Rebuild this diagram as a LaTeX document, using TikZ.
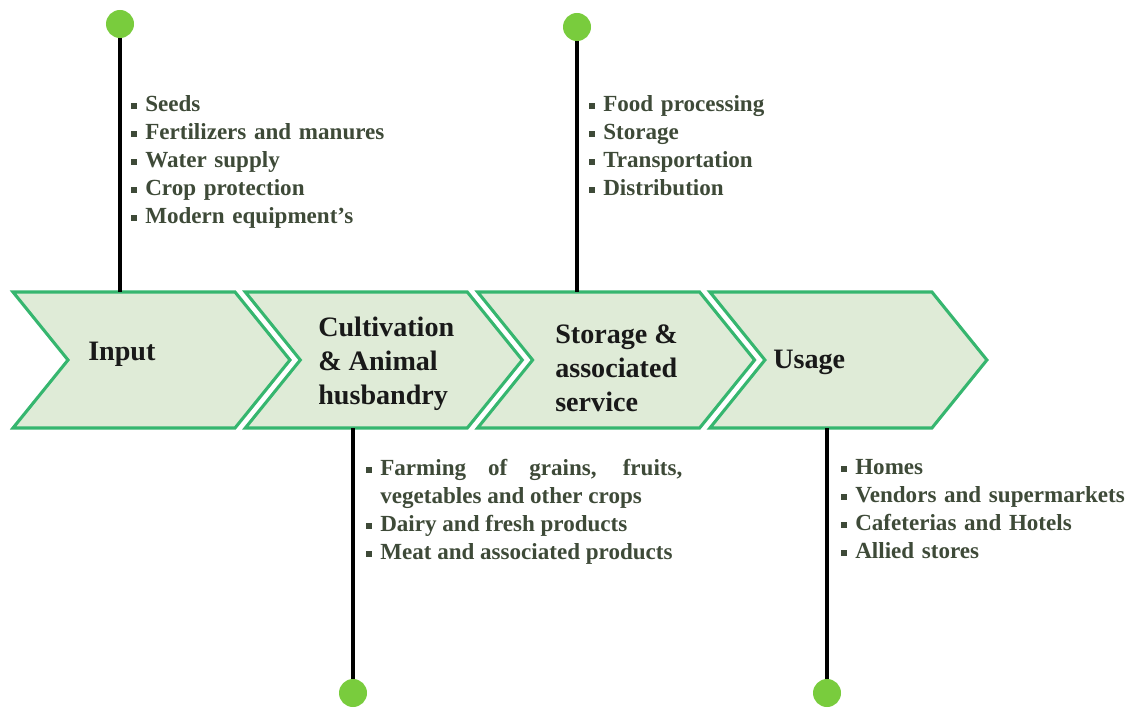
\documentclass[tikz,border=0pt]{standalone}
\usepackage{fontspec}
\setmainfont{Liberation Serif}

\definecolor{chevline}{HTML}{36B66F}
\definecolor{chevfill}{HTML}{DFEBD7}
\definecolor{dotgreen}{HTML}{79CC3D}
\definecolor{listtext}{HTML}{3E4A38}

\newcommand{\sqb}{\makebox[0.35cm][l]{\raisebox{0.1em}{\rule{4.2pt}{4.2pt}}}}
\newcommand{\itm}[1]{\par\hangindent=0.35cm\hangafter=1\noindent\sqb#1}

\begin{document}
\begin{tikzpicture}[x=0.025cm, y=-0.025cm,
    chevron/.style={draw=chevline, fill=chevfill, line width=2.2pt,
      line join=miter},
    dot/.style={circle, fill=dotgreen, minimum size=0.7cm, inner sep=0pt},
    stem/.style={draw=black, line width=2.2pt},
    stage/.style={anchor=west, inner sep=0pt, align=left,
      font=\bfseries\fontsize{20pt}{24.2pt}\selectfont, text=black!90},
    items/.style={anchor=north west, inner sep=0pt, text width=7.8cm,
      align=left, text=listtext,
      font=\bfseries\fontsize{16.4pt}{19.9pt}\selectfont}]
    \useasboundingbox (0, 0) rectangle (1128, 708);
    % the four chevrons
    \foreach \x in {13, 245.3, 477.6, 709.9}
      \draw[chevron] (\x, 292) -- ++(222, 0) -- ++(55, 68)
        -- ++(-55, 68) -- ++(-222, 0) -- ++(55, -68) -- cycle;
    \node[stage] at (88, 354) (input) {Input};
    \node[stage] at (318, 364) (cult)
      {Cultivation\\ \& Animal\\ husbandry};
    \node[stage] at (555, 368) (store)
      {Storage \&\\ associated\\ service};
    \node[stage] at (773, 362) (usage) {Usage};
    % stems and dots
    \coordinate (tinput) at (120, 292);
    \coordinate (tstore) at (577, 292);
    \coordinate (bcult) at (353, 428);
    \coordinate (busage) at (827, 428);
    \node[dot] at (120, 24) (dinput) {};
    \node[dot] at (577, 27) (dstore) {};
    \node[dot] at (353, 693) (dcult) {};
    \node[dot] at (827, 693) (dusage) {};
    \path
      (dinput) edge[stem] (tinput)
      (dstore) edge[stem] (tstore)
      (bcult) edge[stem] (dcult)
      (busage) edge[stem] (dusage);
    % bullet lists
    \node[items] at (131, 83) (linput)
      {\itm{Seeds}\itm{Fertilizers and manures}\itm{Water supply}%
       \itm{Crop protection}\itm{Modern equipment's}};
    \node[items] at (589, 83) (lstore)
      {\itm{Food processing}\itm{Storage}\itm{Transportation}%
       \itm{Distribution}};
    \node[items, text width=7.9cm, align=justify] at (366, 447) (lcult)
      {\itm{Farming of grains, fruits,\linebreak vegetables and other crops}%
       \itm{Dairy and fresh products}\itm{Meat and associated products}};
    \node[items] at (841, 446) (lusage)
      {\itm{Homes}\itm{Vendors and supermarkets}%
       \itm{Cafeterias and Hotels}\itm{Allied stores}};
  \end{tikzpicture}
\end{document}
